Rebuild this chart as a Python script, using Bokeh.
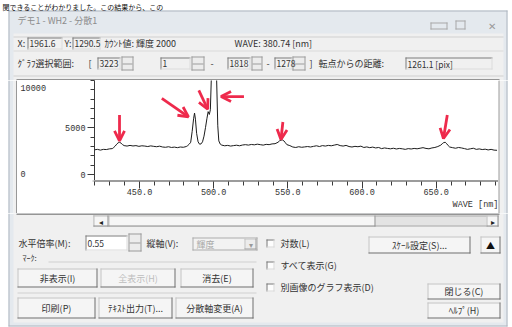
from bokeh.plotting import figure
from bokeh.layouts import column, row
from bokeh.models import (Range1d, Arrow, OpenHead, FixedTicker, PrintfTickFormatter,
                          LinearAxis, ColumnDataSource)
from bokeh.core.properties import value
from bokeh.embed import file_html
from bokeh.resources import INLINE

# ---------------- data ----------------
WAVE = [419, 421, 423, 425, 427, 429, 431, 432, 433, 434, 435, 436, 437, 438, 439,
        441, 443, 445, 447, 449, 451, 453, 455, 457, 459, 461, 463, 465, 467, 469,
        471, 473, 475, 477, 479, 481, 482, 483, 484, 485, 486, 486.6, 487.2, 488,
        489, 490, 491, 492, 493, 494, 495, 495.8, 496.6, 497.3, 498, 500, 501.5,
        502.3, 503, 504, 505, 507, 509, 511, 513, 515, 517, 519, 521, 523, 525,
        527, 529, 531, 533, 535, 537, 539, 541, 543, 544, 545, 546, 547, 548, 549,
        551, 553, 555, 557, 559, 561, 563, 565, 567, 569, 571, 573, 575, 577, 579,
        581, 583, 585, 587, 589, 591, 593, 595, 597, 599, 601, 603, 605, 607, 609,
        611, 613, 615, 617, 619, 621, 623, 625, 627, 629, 631, 633, 635, 637, 639,
        641, 643, 645, 647, 649, 651, 653, 654, 655, 656, 657, 658, 659, 661, 663,
        665, 667, 669, 671, 673, 675, 677, 679, 681, 683, 685, 687, 689, 691]
COUNT = [2650, 2700, 2620, 2700, 2680, 2750, 2780, 2900, 3050, 3250, 3400, 3450, 3350, 3200, 3100,
         3050, 3120, 3060, 3100, 3020, 3080, 3050, 3000, 3070, 3020, 2980, 3040, 2950, 2920, 2980,
         2900, 2940, 2880, 2950, 2920, 3000, 3100, 3250, 3450, 4600, 6000, 6550, 5900, 4400,
         3500, 3250, 3280, 3500, 4100, 5000, 6000, 6700, 6400, 6900, 10500, 20000, 10300,
         5200, 3600, 3250, 3150, 3080, 3120, 3050, 3100, 3140, 3080, 3160, 3200, 3150, 3220,
         3180, 3250, 3200, 3150, 3230, 3200, 3280, 3300, 3450, 3600, 3680, 3700, 3600, 3400, 3200,
         3100, 2950, 2900, 2980, 2920, 2960, 3000, 2950, 3020, 3080, 3000, 3100, 3050, 3120, 3080,
         3150, 3220, 3100, 3050, 3120, 3000, 2950, 3020, 2980, 3040, 2900, 2960, 2880, 2940, 2850,
         2900, 2780, 2850, 2800, 2760, 2820, 2740, 2800, 2760, 2700, 2780, 2740, 2800, 2760, 2820,
         2880, 2800, 2760, 2850, 2900, 3000, 3150, 3300, 3420, 3450, 3300, 3100, 2950, 2880, 2820,
         2900, 2850, 2780, 2700, 2760, 2820, 2700, 2750, 2680, 2720, 2640, 2700, 2620, 2600]

X_TICKS = [450, 500, 550, 600, 650]
X_MINOR = [420, 430, 440, 460, 470, 480, 490, 510, 520, 530, 540, 560, 570, 580, 590,
           610, 620, 630, 640, 660, 670, 680, 690]
Y_TICKS = [0, 5000]
Y_MINOR = [1000, 2000, 3000, 4000, 6000, 7000, 8000, 9000, 10000]
X_LABEL = "WAVE [nm]"

# red marker arrows: (tail wave, tail count, tip wave, tip count)
ARROWS = [(435.9, 6350, 435.9, 3600),
          (464.5, 8100, 482.5, 6150),
          (489.5, 8950, 495.5, 6950),
          (520.0, 8300, 504.5, 8300),
          (546.3, 5600, 545.0, 3750),
          (657.4, 6350, 654.8, 3850)]

RED = "#ee2a4c"
JP = "Noto Sans CJK JP"
MONO = "Liberation Mono"
FACE = "#f0f0f0"
FRAME = "#e4e9ee"
EDGE = "#aeb6bf"
DARK = "#3a3a3a"
INK = "#333333"


class UI:
    """A small figure whose frame is its whole canvas, in screen-pixel coordinates."""

    def __init__(self, x0, y0, w, h, bg=FACE):
        f = figure(width=w, height=h, title=None,
                   x_range=Range1d(x0, x0 + w), y_range=Range1d(y0 + h, y0),
                   output_backend="svg", toolbar_location=None,
                   x_axis_location=None, y_axis_location=None,
                   min_border_left=0, min_border_right=0,
                   min_border_top=0, min_border_bottom=0)
        f.grid.visible = False
        f.outline_line_color = None
        f.background_fill_color = bg
        f.border_fill_color = bg
        self.f = f
        self.q = dict(left=[], right=[], top=[], bottom=[], color=[])
        self.t = []

    def rect(self, l, t, r, b, c):
        self.q["left"].append(l)
        self.q["right"].append(r)
        self.q["top"].append(t)
        self.q["bottom"].append(b)
        self.q["color"].append(c)

    def box(self, l, t, r, b, fill, tl, br=None):
        br = br or tl
        self.rect(l, t, r, b, fill)
        self.rect(l, t, r, t + 1, tl)
        self.rect(l, t, l + 1, b, tl)
        self.rect(l, b - 1, r, b, br)
        self.rect(r - 1, t, r, b, br)

    def text(self, x, y, s, size=9, color=INK, align="left", font=JP):
        self.t.append((x, y, s, size, color, align, font))

    def field(self, l, t, r, b, s, fill=FACE):
        self.box(l, t, r, b, fill, "#7c7c7c", "#dcdcdc")
        self.text(l + 2, (t + b) / 2, s, size=8.5)

    def spin(self, l, t, r, b):
        self.box(l, t, r, b, "#ececec", "#9c9c9c")
        m = (t + b) // 2
        self.rect(l + 1, m, r - 1, m + 1, "#9c9c9c")

    def button(self, l, t, r, b, s, color=INK):
        self.box(l, t, r, b, "#f5f5f5", "#c4c4c4", "#6e6e6e")
        self.text((l + r) / 2, (t + b) / 2, s, color=color, align="center")

    def check(self, l, t):
        self.box(l, t, l + 8, t + 8, "#fdfdfd", "#777777", "#d8d8d8")

    def done(self):
        if self.q["left"]:
            self.f.quad(left="left", right="right", top="top", bottom="bottom",
                        fill_color="color", line_color=None,
                        source=ColumnDataSource(self.q))
        for (x, y, s, size, color, align, font) in self.t:
            self.f.text(x=[x], y=[y], text=[s], text_font=value(font),
                        text_font_size=value(f"{size}px"), text_color=color,
                        text_align=align, text_baseline="middle")
        return self.f


# ---------------- the spectrum graph ----------------
XR = Range1d(419, 692)

spec = figure(width=436, height=100, title=None, x_range=XR, y_range=Range1d(-600, 10000),
              output_backend="svg", toolbar_location=None, x_axis_location=None,
              min_border_left=31, min_border_right=0, min_border_top=0, min_border_bottom=0)
spec.background_fill_color = "white"
spec.border_fill_color = "white"
spec.outline_line_color = None
spec.grid.visible = False
ya = spec.yaxis[0]
ya.ticker = FixedTicker(ticks=Y_TICKS, minor_ticks=Y_MINOR)
ya.formatter = PrintfTickFormatter(format="%d")
ya.major_tick_in = 0
ya.major_tick_out = 7
ya.minor_tick_in = 0
ya.minor_tick_out = 4
ya.major_label_standoff = 2
ya.axis_line_color = DARK
ya.major_tick_line_color = DARK
ya.minor_tick_line_color = DARK
ya.major_label_text_font = MONO
ya.major_label_text_font_size = "8.5px"
ya.major_label_text_color = INK

spec.line(WAVE, COUNT, line_color="#1c1c1c", line_width=1)
for (x0, y0, x1, y1) in ARROWS:
    spec.add_layout(Arrow(end=OpenHead(size=10, line_color=RED, line_width=2.8),
                          x_start=x0, y_start=y0, x_end=x1, y_end=y1,
                          line_color=RED, line_width=2.8))

# x axis strip under the graph (shares the wavelength range)
xfig = figure(width=405, height=33, title=None, x_range=XR, y_range=Range1d(0, 1),
              output_backend="svg", toolbar_location=None, y_axis_location=None,
              min_border_left=0, min_border_right=0, min_border_top=0, min_border_bottom=32)
xfig.background_fill_color = DARK
xfig.border_fill_color = "white"
xfig.outline_line_color = None
xfig.grid.visible = False
xa = xfig.xaxis[0]
xa.ticker = FixedTicker(ticks=X_TICKS, minor_ticks=X_MINOR)
xa.formatter = PrintfTickFormatter(format="%.1f")
xa.axis_line_color = None
xa.major_tick_in = 0
xa.major_tick_out = 7
xa.minor_tick_in = 0
xa.minor_tick_out = 4
xa.major_label_standoff = 0
xa.major_tick_line_color = DARK
xa.minor_tick_line_color = DARK
xa.major_label_text_font = MONO
xa.major_label_text_font_size = "8.5px"
xa.major_label_text_color = INK
xfig.extra_x_ranges = {"lab": Range1d(93, 498)}
la = LinearAxis(x_range_name="lab", ticker=FixedTicker(ticks=[475], minor_ticks=[]),
                major_label_overrides={475: X_LABEL},
                axis_line_color=None, major_tick_line_color=None, minor_tick_line_color=None,
                major_tick_out=0, minor_tick_out=0, major_tick_in=0, minor_tick_in=0,
                major_label_standoff=2, major_label_text_font=MONO,
                major_label_text_font_size="8.5px", major_label_text_color=INK)
xfig.add_layout(la, "below")

# ---------------- dialog parts (screen-pixel coordinates) ----------------
top = UI(0, 0, 512, 80, "white")
top.rect(8, 10, 507, 80, FRAME)
top.rect(13, 33, 503, 80, FACE)
top.rect(8, 10, 507, 11, EDGE)
top.rect(8, 10, 9, 80, EDGE)
top.rect(506, 10, 507, 80, EDGE)
top.text(2, 6, "関できることがわかりました。この結果から、この", size=7, color="#111111")
top.text(17, 20, "デモ1 - WH2 - 分散1", color="#8c8c8c")
top.box(430, 22, 447, 29, FRAME, "#a8a8a8")
top.box(455, 20, 465, 29, FRAME, "#a8a8a8")
top.text(491, 25, "✕", size=10, color="#9a9a9a", align="center")
top.rect(13, 36, 503, 37, "#d0d0d0")
top.text(17, 43, "X:")
top.field(27, 37, 62, 49, "1961.6")
top.text(64, 43, "Y:")
top.field(72, 37, 100, 49, "1290.5")
top.text(104, 43, "ｶｳﾝﾄ値: 輝度 2000")
top.text(234, 43, "WAVE: 380.74 [nm]")
top.rect(13, 50, 503, 51, "#dadada")
top.text(17, 63, "ｸﾞﾗﾌ選択範囲:")
top.text(88, 63, "[")
top.field(97, 57, 120, 69, "3223")
top.spin(121, 56, 133, 70)
top.field(160, 57, 190, 69, "1")
top.spin(191, 56, 204, 70)
top.text(210, 63, "-")
top.field(227, 57, 250, 69, "1818")
top.spin(251, 56, 262, 70)
top.text(266, 63, "-")
top.field(274, 57, 292, 69, "1278")
top.spin(292, 56, 305, 70)
top.text(309, 63, "]")
top.text(318, 63, "転点からの距離:")
top.field(405, 57, 492, 69, "1261.1 [pix]")
top.rect(13, 75, 503, 76, "#d0d0d0")
top.rect(16, 79, 499, 80, DARK)

left = UI(0, 80, 17, 133, "white")
left.rect(8, 80, 13, 213, FRAME)
left.rect(8, 80, 9, 213, EDGE)
left.rect(13, 80, 16, 213, FACE)
left.rect(16, 80, 17, 213, DARK)

right = UI(498, 80, 14, 133, "white")
right.rect(498, 80, 499, 213, DARK)
right.rect(499, 80, 503, 213, FACE)
right.rect(503, 80, 507, 213, FRAME)
right.rect(506, 80, 507, 213, EDGE)

lpanel = UI(17, 80, 45, 100, "white")
lpanel.text(20, 87, "10000", size=8.5, font=MONO)
lpanel.text(20, 173, "0", size=8.5, font=MONO)

lowleft = UI(17, 180, 76, 33, "white")
lowleft.rect(17, 180, 93, 181, DARK)
lowleft.rect(92, 180, 93, 213, DARK)

bot = UI(0, 213, 512, 114, "white")
bot.rect(8, 213, 507, 326, FRAME)
bot.rect(13, 213, 503, 322, FACE)
bot.rect(8, 213, 9, 326, EDGE)
bot.rect(506, 213, 507, 326, EDGE)
bot.rect(8, 325, 507, 326, EDGE)
bot.rect(16, 213, 499, 214, DARK)
# scrollbar
bot.box(93, 215, 498, 226, "#e3e3e3", "#a9a9a9")
bot.box(108, 215, 375, 226, "#f6f6f6", "#bdbdbd", "#8c8c8c")
bot.box(93, 215, 108, 226, "#f6f6f6", "#bdbdbd", "#8c8c8c")
bot.box(486, 215, 498, 226, "#f6f6f6", "#bdbdbd", "#8c8c8c")
bot.text(100.5, 220.5, "◂", size=8, color="#222222", align="center")
bot.text(492, 220.5, "▸", size=8, color="#222222", align="center")
# row: magnification / vertical axis / log / scale
bot.text(18, 243, "水平倍率(M):")
bot.field(85, 235, 127, 250, "0.55", "white")
bot.spin(128, 233, 141, 251)
bot.text(146, 243, "縦軸(V):")
bot.box(192, 237, 257, 250, "#f2f2f2", "#ababab")
bot.text(196, 243.5, "輝度", color="#a8a8a8")
bot.box(244, 238, 256, 249, "#ececec", "#c4c4c4", "#9c9c9c")
bot.text(250, 243.5, "▾", size=8, color="#9a9a9a", align="center")
bot.check(266, 239)
bot.text(280, 243, "対数(L)")
bot.button(368, 236, 470, 253, "ｽｹｰﾙ設定(S)...")
bot.button(480, 236, 500, 253, "▲", color="#111111")
# marker group
bot.text(22, 257, "ﾏｰｸ:", size=8)
bot.rect(48, 261, 256, 262, "#cfcfcf")
bot.button(17, 268, 97, 287, "非表示(I)")
bot.button(100, 268, 175, 287, "全表示(H)", color="#bdbdbd")
bot.button(180, 268, 253, 287, "消去(E)")
bot.check(266, 261)
bot.text(280, 265, "すべて表示(G)")
bot.check(266, 283)
bot.text(280, 287, "別画像のグラフ表示(D)")
bot.button(427, 283, 500, 299, "閉じる(C)")
bot.rect(17, 292, 256, 293, "#cfcfcf")
bot.button(17, 297, 95, 318, "印刷(P)")
bot.button(98, 297, 172, 318, "ﾃｷｽﾄ出力(T)...")
bot.button(175, 297, 253, 318, "分散軸変更(A)")
bot.button(427, 302, 500, 318, "ﾍﾙﾌﾟ(H)")

layout = column(
    top.done(),
    row(left.done(),
        column(row(lpanel.done(), spec), row(lowleft.done(), xfig)),
        right.done()),
    bot.done(),
)

open("out.html", "w").write(file_html(layout, INLINE))
